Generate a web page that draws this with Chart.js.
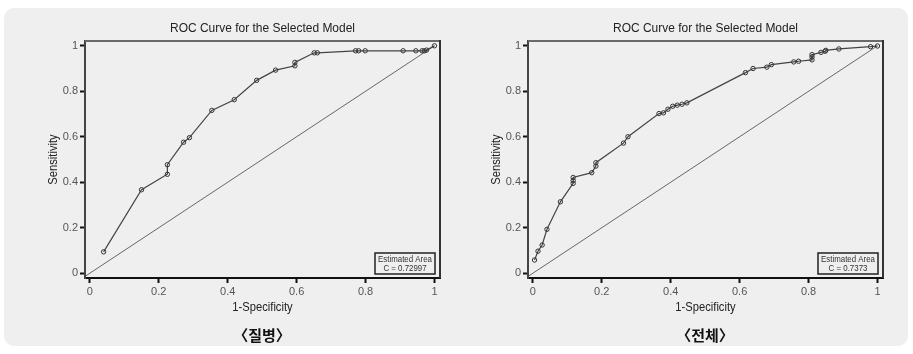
<!DOCTYPE html>
<html>
<head>
<meta charset="utf-8">
<script src="https://cdn.jsdelivr.net/npm/chart.js@4/dist/chart.umd.min.js"></script>
<style>
html,body{margin:0;padding:0;background:#fff;width:913px;height:354px;overflow:hidden;}
#panel{position:absolute;left:4px;top:8px;width:904px;height:338px;border-radius:10px;background:#efefef;}
canvas{position:absolute;left:0;top:0;}
.cap{position:absolute;top:324px;font-family:'Noto Sans CJK KR',sans-serif;font-weight:700;font-size:15px;color:#111;transform:translateX(-50%);white-space:nowrap;}
</style>
</head>
<body>
<div id="panel"></div>
<canvas id="c1" width="913" height="354"></canvas>
<canvas id="c2" width="913" height="354"></canvas>
<div class="cap" style="left:262px">〈질병〉</div>
<div class="cap" style="left:705px">〈전체〉</div>
<script>
// ---- data ----
const titleText = "ROC Curve for the Selected Model";
const xTitle = "1-Specificity";
const yTitle = "Sensitivity";
const tickVals = [0, 0.2, 0.4, 0.6, 0.8, 1];

const diseaseFpr = [0.040,0.150,0.225,0.225,0.272,0.289,0.354,0.419,0.484,0.539,0.595,0.595,0.651,0.660,0.771,0.780,0.799,0.909,0.946,0.964,0.971,0.977,1.000];
const diseaseTpr = [0.094,0.367,0.435,0.477,0.576,0.596,0.716,0.763,0.848,0.893,0.912,0.927,0.969,0.969,0.978,0.978,0.978,0.978,0.978,0.978,0.978,0.981,1.000];
const diseaseArea = "C = 0.72997";

const totalFpr = [0.005,0.015,0.027,0.041,0.080,0.117,0.117,0.117,0.171,0.183,0.183,0.263,0.276,0.366,0.379,0.392,0.406,0.419,0.433,0.447,0.617,0.639,0.679,0.692,0.757,0.771,0.810,0.810,0.810,0.836,0.848,0.850,0.888,0.980,1.000];
const totalTpr = [0.058,0.097,0.124,0.193,0.314,0.395,0.407,0.421,0.442,0.471,0.486,0.572,0.600,0.702,0.705,0.721,0.734,0.739,0.743,0.749,0.882,0.900,0.906,0.917,0.929,0.932,0.938,0.951,0.961,0.971,0.976,0.980,0.986,0.996,0.999];
const totalArea = "C = 0.7373";

// ---- styling / layout ----
const FONT = "'Liberation Sans',Arial,sans-serif";
const X_MIN = -0.014, X_MAX = 1.016, Y_MIN = -0.021, Y_MAX = 1.021;

function narrowText(ctx, text, x, y, size, sx, rot) {
  ctx.save();
  ctx.translate(x, y);
  if (rot) ctx.rotate(rot);
  ctx.scale(sx, 1);
  ctx.font = size + 'px ' + FONT;
  ctx.textAlign = 'center'; ctx.textBaseline = 'middle';
  ctx.fillText(text, 0, 0);
  ctx.restore();
}

const decor = {
  id: 'decor',
  afterDraw(chart, args, o) {
    const {ctx, chartArea: a} = chart;
    ctx.save();
    // top and right frame
    ctx.strokeStyle = '#6a6a6a'; ctx.lineWidth = 2;
    ctx.beginPath(); ctx.moveTo(a.left, a.top); ctx.lineTo(a.right, a.top); ctx.stroke();
    ctx.strokeStyle = '#333'; ctx.lineWidth = 2;
    ctx.beginPath(); ctx.moveTo(a.right, a.top - 1); ctx.lineTo(a.right, a.bottom); ctx.stroke();
    const cx = (a.left + a.right) / 2;
    ctx.fillStyle = '#222';
    narrowText(ctx, titleText, cx, 28, 13.5, 0.887);
    narrowText(ctx, xTitle, cx, 307, 13, 0.86);
    narrowText(ctx, yTitle, a.left - 32, (a.top + a.bottom) / 2, 13, 0.86, -Math.PI / 2);
    // estimated area box
    const bw = 60, bh = 21;
    const bx = a.right - 5 - bw, by = a.bottom - 4 - bh;
    ctx.strokeStyle = '#222'; ctx.lineWidth = 1.5;
    ctx.strokeRect(bx, by, bw, bh);
    ctx.fillStyle = '#333';
    narrowText(ctx, 'Estimated Area', bx + bw / 2, by + 6.5, 9.5, 0.83);
    narrowText(ctx, o.area, bx + bw / 2, by + 15, 9.5, 0.83);
    ctx.restore();
  }
};

function makeChart(id, fpr, tpr, area, padLeft, padRight) {
  const pts = fpr.map((x, i) => ({x, y: tpr[i]}));
  return new Chart(document.getElementById(id), {
    type: 'scatter',
    data: {
      datasets: [
        {
          data: [{x: X_MIN, y: X_MIN}, {x: 1, y: 1}],
          showLine: true, borderColor: '#444', borderWidth: 0.8,
          pointRadius: 0
        },
        {
          data: pts, showLine: true,
          borderColor: '#444', borderWidth: 1.2,
          pointRadius: 2.2, pointBorderWidth: 1,
          pointBorderColor: '#333', pointBackgroundColor: 'rgba(0,0,0,0)'
        }
      ]
    },
    options: {
      responsive: false, animation: false,
      layout: {padding: {left: padLeft, right: padRight, top: 41, bottom: 0}},
      plugins: {legend: {display: false}, tooltip: {enabled: false}, title: {display: false}, decor: {area}},
      scales: {
        x: {
          type: 'linear', min: X_MIN, max: X_MAX,
          afterBuildTicks: s => { s.ticks = tickVals.map(v => ({value: v})); },
          afterFit: s => { s.height = 76; s.paddingLeft = 0; s.paddingRight = 0; s.paddingTop = 0; s.paddingBottom = 0; },
          grid: {display: true, drawOnChartArea: false, drawTicks: true, tickLength: 5, tickWidth: 2, tickColor: '#111'},
          border: {display: true, color: '#111', width: 2},
          ticks: {color: '#555', padding: 2, font: {family: FONT, size: 11}, maxRotation: 0, autoSkip: false,
                  callback: v => String(v)}
        },
        y: {
          type: 'linear', min: Y_MIN, max: Y_MAX,
          afterBuildTicks: s => { s.ticks = tickVals.map(v => ({value: v})); },
          afterFit: s => { s.width = 85; s.paddingLeft = 0; s.paddingRight = 0; s.paddingTop = 0; s.paddingBottom = 0; },
          grid: {display: true, drawOnChartArea: false, drawTicks: true, tickLength: 5, tickWidth: 2, tickColor: '#111'},
          border: {display: true, color: '#444', width: 2},
          ticks: {color: '#555', padding: 2, font: {family: FONT, size: 11}, autoSkip: false,
                  callback: v => String(v)}
        }
      }
    },
    plugins: [decor]
  });
}

makeChart('c1', diseaseFpr, diseaseTpr, diseaseArea, 0, 913 - 440);
makeChart('c2', totalFpr, totalTpr, totalArea, 528 - 85, 913 - 883);
</script>
</body>
</html>
